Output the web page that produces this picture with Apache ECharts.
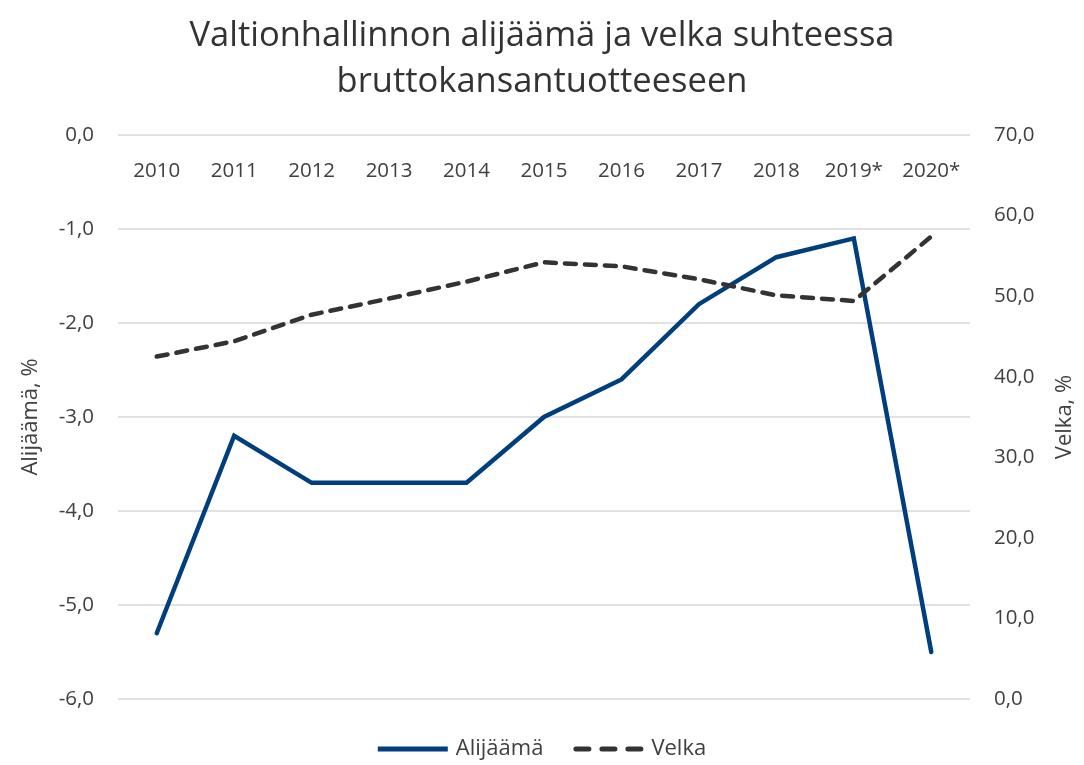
<!DOCTYPE html>
<html><head><meta charset="utf-8">
<script src="https://cdn.jsdelivr.net/npm/echarts@6/dist/echarts.min.js"></script>
<style>html,body{margin:0;padding:0;background:#fff}#c{width:1084px;height:765px}</style>
</head><body><div id="c"></div>
<script>
const years = ['2010','2011','2012','2013','2014','2015','2016','2017','2018','2019*','2020*'];
const alijaama = [-5.3,-3.2,-3.7,-3.7,-3.7,-3.0,-2.6,-1.8,-1.3,-1.1,-5.5];
const velka = [42.5,44.4,47.7,49.7,51.8,54.2,53.7,52.1,50.1,49.4,57.4];
const leftTicks = [-6,-5,-4,-3,-2,-1,0];
const rightTicks = [0,10,20,30,40,50,60,70];

const font = '"Open Sans", "Noto Sans", sans-serif';
const txt = '#404040';
const fmt = v => v.toFixed(1).replace('.', ',');
const solidIcon = 'path://M0,0 H70 V5 H0 Z';
const dashIcon = 'path://M2.5,0 H15.5 A2.5,2.5 0 0 1 15.5,5 H2.5 A2.5,2.5 0 0 1 2.5,0 Z M28.5,0 H41.5 A2.5,2.5 0 0 1 41.5,5 H28.5 A2.5,2.5 0 0 1 28.5,0 Z M54.5,0 H67.5 A2.5,2.5 0 0 1 67.5,5 H54.5 A2.5,2.5 0 0 1 54.5,0 Z';
const chart = echarts.init(document.getElementById('c'));
chart.setOption({
  animation:false,
  textStyle:{fontFamily:font},
  title:{text:'Valtionhallinnon alijäämä ja velka suhteessa\nbruttokansantuotteeseen',left:'center',top:8,
    textStyle:{fontFamily:font,fontSize:34.5,fontWeight:'normal',color:'#333333',lineHeight:46}},
  grid:{left:118,right:110,top:135,bottom:66},
  legend:{bottom:0,left:'center',itemWidth:70,itemHeight:5,itemGap:30,
    textStyle:{fontFamily:font,fontSize:22,color:txt,padding:[0,0,0,3]},
    data:[{name:'Alijäämä',icon:solidIcon},{name:'Velka',icon:dashIcon}]},
  xAxis:{type:'category',data:years,position:'top',
    axisLine:{show:false},axisTick:{show:false},
    axisLabel:{inside:true,margin:26,fontSize:20.5,color:txt,fontFamily:font}},
  yAxis:[
    {type:'value',min:leftTicks[0],max:leftTicks[leftTicks.length-1],interval:1,
     name:'Alijäämä, %',nameLocation:'middle',nameGap:76,nameRotate:90,
     nameTextStyle:{fontSize:22,color:txt,fontFamily:font},
     axisLabel:{formatter:fmt,fontSize:20.5,color:txt,margin:24},
     splitLine:{lineStyle:{color:'#d9d9d9',width:1.5}},axisLine:{show:false},axisTick:{show:false}},
    {type:'value',min:rightTicks[0],max:rightTicks[rightTicks.length-1],interval:10,position:'right',
     name:'Velka, %',nameLocation:'middle',nameGap:84,nameRotate:90,
     nameTextStyle:{fontSize:22,color:txt,fontFamily:font},
     axisLabel:{formatter:fmt,fontSize:20.5,color:txt,margin:24},
     splitLine:{show:false},axisLine:{show:false},axisTick:{show:false}}
  ],
  series:[
    {name:'Alijäämä',type:'line',yAxisIndex:0,data:alijaama,symbol:'none',
     lineStyle:{color:'#003f7d',width:4.5,cap:'round',join:'miter'},itemStyle:{color:'#003f7d'}},
    {name:'Velka',type:'line',yAxisIndex:1,data:velka,symbol:'none',
     lineStyle:{color:'#333333',width:4.5,type:[11,9],cap:'round'},itemStyle:{color:'#333333'}}
  ]
});
</script></body></html>
